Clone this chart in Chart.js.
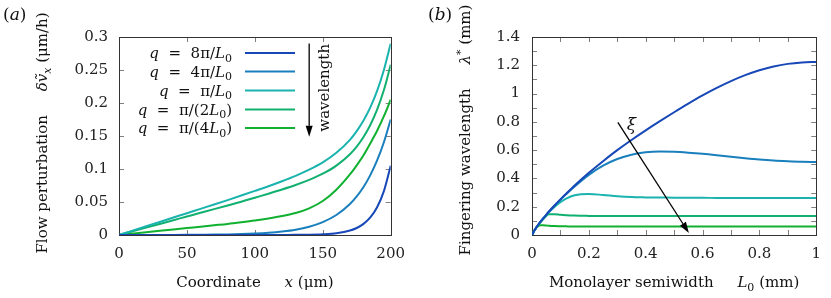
<!DOCTYPE html>
<html>
<head>
<meta charset="utf-8">
<script src="https://cdn.jsdelivr.net/npm/chart.js@4.4.0/dist/chart.umd.min.js"></script>
<style>
body { margin: 0; background: #fff; width: 831px; height: 298px; position: relative; overflow: hidden; }
.panel { position: absolute; top: 0; height: 298px; }
#pa { left: 0; width: 415px; }
#pb { left: 415px; width: 416px; }
</style>
</head>
<body>
<div class="panel" id="pa"><canvas id="flow"></canvas></div>
<div class="panel" id="pb"><canvas id="finger"></canvas></div>
<script>
// (a) flow perturbation along x (um), one curve per wavenumber q
var coordX = [0, 10, 20, 30, 40, 50, 60, 70, 80, 90, 100, 110, 120, 130, 140, 150, 160, 170, 175, 180, 185, 190, 195, 200];
var flowQ8 = [0, 0, 0, 0, 0, 0, 0, 0, 0, 0, 0, 0, 0.0001, 0.0002, 0.0004, 0.0011, 0.0027, 0.0067, 0.0106, 0.0168, 0.0266, 0.042, 0.0664, 0.105];
var flowQ4 = [0, 0, 0.0001, 0.0001, 0.0001, 0.0002, 0.0004, 0.0006, 0.0009, 0.0014, 0.0022, 0.0034, 0.0053, 0.0081, 0.0126, 0.0196, 0.0303, 0.047, 0.0585, 0.0728, 0.0907, 0.113, 0.1406, 0.175];
var flowQ1 = [0, 0.0066, 0.0132, 0.0198, 0.0264, 0.033, 0.0396, 0.0462, 0.0529, 0.0598, 0.0668, 0.0739, 0.0815, 0.0897, 0.099, 0.110, 0.1246, 0.1442, 0.1574, 0.1735, 0.1934, 0.2184, 0.25, 0.29];
var flowQhalf = [0, 0.0056, 0.0112, 0.0168, 0.0224, 0.028, 0.0336, 0.0392, 0.0448, 0.0504, 0.0565, 0.0626, 0.0689, 0.0757, 0.0835, 0.0929, 0.1052, 0.1224, 0.134, 0.1485, 0.1667, 0.1898, 0.2196, 0.258];
var flowQquarter = [0, 0.0021, 0.0042, 0.0063, 0.0084, 0.0105, 0.0126, 0.0147, 0.0168, 0.0193, 0.022, 0.0251, 0.0287, 0.0333, 0.0404, 0.0515, 0.0686, 0.0917, 0.1055, 0.1208, 0.1389, 0.1579, 0.18, 0.205];
var flowLabels = [
  [{t: 'q', i: 1}, {t: '  =  8π/'}, {t: 'L', i: 1}, {t: '0', sub: 1}],
  [{t: 'q', i: 1}, {t: '  =  4π/'}, {t: 'L', i: 1}, {t: '0', sub: 1}],
  [{t: 'q', i: 1}, {t: '  =  π/'}, {t: 'L', i: 1}, {t: '0', sub: 1}],
  [{t: 'q', i: 1}, {t: '  =  π/(2'}, {t: 'L', i: 1}, {t: '0', sub: 1}, {t: ')'}],
  [{t: 'q', i: 1}, {t: '  =  π/(4'}, {t: 'L', i: 1}, {t: '0', sub: 1}, {t: ')'}]
];
var flowXTicks = [0, 50, 100, 150, 200];
var flowYTicks = [0, 0.05, 0.1, 0.15, 0.2, 0.25, 0.3];

// (b) fingering wavelength vs monolayer semiwidth L0 (mm), one curve per xi
var semiwidth = [0, 0.01, 0.02, 0.03, 0.04, 0.05, 0.06, 0.08, 0.1, 0.12, 0.15, 0.2, 0.25, 0.3, 0.35, 0.4, 0.45, 0.5, 0.55, 0.6, 0.65, 0.7, 0.75, 0.8, 0.85, 0.9, 0.95, 1.0];
var lambdaXi1 = [0, 0.037, 0.067, 0.094, 0.119, 0.143, 0.166, 0.21, 0.252, 0.292, 0.35, 0.44, 0.522, 0.6, 0.672, 0.74, 0.805, 0.868, 0.929, 0.987, 1.04, 1.088, 1.13, 1.165, 1.192, 1.21, 1.22, 1.224];
var lambdaXi2 = [0, 0.037, 0.067, 0.094, 0.119, 0.143, 0.166, 0.209, 0.25, 0.288, 0.343, 0.425, 0.49, 0.537, 0.568, 0.585, 0.59, 0.588, 0.582, 0.574, 0.564, 0.553, 0.543, 0.534, 0.527, 0.522, 0.518, 0.516];
var lambdaXi3 = [0, 0.037, 0.067, 0.093, 0.117, 0.14, 0.162, 0.2, 0.232, 0.257, 0.281, 0.29, 0.283, 0.274, 0.268, 0.266, 0.265, 0.264, 0.263, 0.263, 0.262, 0.262, 0.262, 0.262, 0.261, 0.261, 0.261, 0.261];
var lambdaXi4 = [0, 0.037, 0.066, 0.09, 0.112, 0.135, 0.146, 0.147, 0.143, 0.14, 0.137, 0.135, 0.134, 0.134, 0.134, 0.134, 0.134, 0.134, 0.134, 0.134, 0.134, 0.134, 0.134, 0.134, 0.134, 0.134, 0.134, 0.134];
var lambdaXi5 = [0, 0.037, 0.06, 0.069, 0.069, 0.067, 0.065, 0.063, 0.062, 0.061, 0.06, 0.06, 0.06, 0.06, 0.06, 0.06, 0.06, 0.06, 0.06, 0.06, 0.06, 0.06, 0.06, 0.06, 0.06, 0.06, 0.06, 0.06];
var fingerXTicks = [0, 0.2, 0.4, 0.6, 0.8, 1];
var fingerXMinor = [0.1, 0.3, 0.5, 0.7, 0.9];
var fingerYTicks = [0, 0.2, 0.4, 0.6, 0.8, 1, 1.2, 1.4];
var fingerYMinor = [0.1, 0.3, 0.5, 0.7, 0.9, 1.1, 1.3];

var colors = ['#1848b8', '#1a7fbd', '#1ab3ad', '#12b070', '#10b030'];
var FONT = 'DejaVu Serif';

function pts(xs, ys) {
  return xs.map(function (x, k) { return {x: x, y: ys[k]}; });
}

function runFont(r, size) {
  var s = (r.sub || r.sup) ? Math.round(size * 0.7) : size;
  return (r.i ? 'italic ' : '') + s + 'px "' + FONT + '"';
}

function drawRuns(ctx, runs, x, y, size, align) {
  var w = 0;
  runs.forEach(function (r) { ctx.font = runFont(r, size); w += ctx.measureText(r.t).width; });
  var cx = align === 'center' ? x - w / 2 : (align === 'right' ? x - w : x);
  ctx.textAlign = 'left';
  ctx.textBaseline = 'alphabetic';
  runs.forEach(function (r) {
    ctx.font = runFont(r, size);
    var dy = r.sub ? size * 0.25 : (r.sup ? -size * 0.4 : 0);
    ctx.fillText(r.t, cx, y + dy);
    cx += ctx.measureText(r.t).width;
  });
}

function drawRotated(ctx, runs, x, y, size) {
  ctx.save();
  ctx.translate(x, y);
  ctx.rotate(-Math.PI / 2);
  drawRuns(ctx, runs, 0, 0, size, 'center');
  ctx.restore();
}

function drawArrow(ctx, x1, y1, x2, y2) {
  var ang = Math.atan2(y2 - y1, x2 - x1);
  var len = 11, half = 3.5;
  var bx = x2 - len * Math.cos(ang), by = y2 - len * Math.sin(ang);
  ctx.strokeStyle = '#000';
  ctx.fillStyle = '#000';
  ctx.lineWidth = 1.3;
  ctx.beginPath();
  ctx.moveTo(x1, y1);
  ctx.lineTo(bx, by);
  ctx.stroke();
  ctx.beginPath();
  ctx.moveTo(x2, y2);
  ctx.lineTo(bx + half * Math.sin(ang), by - half * Math.cos(ang));
  ctx.lineTo(bx - half * Math.sin(ang), by + half * Math.cos(ang));
  ctx.closePath();
  ctx.fill();
}

// box round the plot and inward ticks on all four sides
function frameTicks(xt, yt) {
  return {
    id: 'frameTicks',
    beforeDatasetsDraw: function (chart) {
      var ctx = chart.ctx, a = chart.chartArea, sx = chart.scales.x, sy = chart.scales.y;
      ctx.save();
      ctx.strokeStyle = '#808080';
      ctx.lineWidth = 1;
      ctx.beginPath();
      xt.forEach(function (v) {
        var p = Math.round(sx.getPixelForValue(v)) + 0.5;
        ctx.moveTo(p, a.bottom); ctx.lineTo(p, a.bottom - 5);
        ctx.moveTo(p, a.top); ctx.lineTo(p, a.top + 5);
      });
      yt.forEach(function (v) {
        var p = Math.round(sy.getPixelForValue(v)) + 0.5;
        ctx.moveTo(a.left, p); ctx.lineTo(a.left + 5, p);
        ctx.moveTo(a.right, p); ctx.lineTo(a.right - 5, p);
      });
      ctx.stroke();
      ctx.strokeStyle = '#333';
      ctx.strokeRect(Math.round(a.left) + 0.5, Math.round(a.top) + 0.5,
        Math.round(a.right - a.left), Math.round(a.bottom - a.top));
      ctx.restore();
    }
  };
}

function axisOpts(min, max, ticks, pad, fit) {
  return {
    type: 'linear',
    min: min,
    max: max,
    grid: {display: false, drawTicks: false},
    border: {display: false},
    afterBuildTicks: function (s) { s.ticks = ticks.map(function (v) { return {value: v}; }); },
    afterFit: fit,
    ticks: {
      callback: function (v) { return String(v); },
      font: {family: FONT, size: 15},
      color: '#222',
      padding: pad,
      maxRotation: 0,
      autoSkip: false
    }
  };
}

function lineSet(data, color) {
  return {data: data, borderColor: color, borderWidth: 2, pointRadius: 0, fill: false, cubicInterpolationMode: 'monotone'};
}

var flowSeries = [flowQ8, flowQ4, flowQ1, flowQhalf, flowQquarter];

var flowDecor = {
  id: 'flowDecor',
  afterDraw: function (chart) {
    var ctx = chart.ctx, a = chart.chartArea, sx = chart.scales.x, sy = chart.scales.y;
    ctx.save();
    // legend
    var rows = [53, 71.5, 90.5, 109.5, 128];
    flowLabels.forEach(function (lab, k) {
      ctx.fillStyle = '#111';
      drawRuns(ctx, lab, 232, rows[k] + 5, 15, 'right');
      ctx.strokeStyle = colors[k];
      ctx.lineWidth = 2;
      ctx.beginPath();
      ctx.moveTo(245, rows[k]);
      ctx.lineTo(295, rows[k]);
      ctx.stroke();
    });
    // wavelength arrow
    drawArrow(ctx, sx.getPixelForValue(140), sy.getPixelForValue(0.29), sx.getPixelForValue(140), sy.getPixelForValue(0.149));
    ctx.fillStyle = '#111';
    drawRotated(ctx, [{t: 'wavelength'}], sx.getPixelForValue(154.5), sy.getPixelForValue(0.223), 15);
    // axis titles
    var cx = (a.left + a.right) / 2;
    drawRuns(ctx, [{t: 'Coordinate     '}, {t: 'x', i: 1}, {t: ' (μm)'}], cx, 287, 15, 'center');
    drawRotated(ctx, [{t: 'Flow perturbation     '}, {t: 'δṽ', i: 1}, {t: 'x', i: 1, sub: 1}, {t: ' (μm/h)'}], 47, 133, 15);
    drawRuns(ctx, [{t: '('}, {t: 'a', i: 1}, {t: ')'}], 3, 20, 17, 'left');
    ctx.restore();
  }
};

new Chart(document.getElementById('flow'), {
  type: 'line',
  data: {
    datasets: flowSeries.map(function (ys, k) { return lineSet(pts(coordX, ys), colors[k]); })
  },
  options: {
    responsive: true,
    maintainAspectRatio: false,
    animation: false,
    layout: {padding: {top: 37, right: 21, left: 0, bottom: 0}},
    plugins: {legend: {display: false}, tooltip: {enabled: false}},
    scales: {
      x: axisOpts(0, 200, flowXTicks, 10, function (s) { s.height = 63; }),
      y: axisOpts(0, 0.3, flowYTicks, 11, function (s) { s.width = 119; })
    }
  },
  plugins: [frameTicks(flowXTicks, flowYTicks), flowDecor]
});

var fingerSeries = [lambdaXi1, lambdaXi2, lambdaXi3, lambdaXi4, lambdaXi5];

var fingerDecor = {
  id: 'fingerDecor',
  afterDraw: function (chart) {
    var ctx = chart.ctx, a = chart.chartArea, sx = chart.scales.x, sy = chart.scales.y;
    ctx.save();
    drawArrow(ctx, sx.getPixelForValue(0.302), sy.getPixelForValue(0.796), sx.getPixelForValue(0.552), sy.getPixelForValue(0.014));
    ctx.fillStyle = '#111';
    drawRuns(ctx, [{t: 'ξ', i: 1}], sx.getPixelForValue(0.35), sy.getPixelForValue(0.74), 17, 'center');
    var cx = (a.left + a.right) / 2;
    drawRuns(ctx, [{t: 'Monolayer semiwidth     '}, {t: 'L', i: 1}, {t: '0', sub: 1}, {t: ' (mm)'}], cx, 287, 15, 'center');
    drawRotated(ctx, [{t: 'Fingering wavelength     '}, {t: 'λ', i: 1}, {t: '*', sup: 1}, {t: ' (mm)'}], 55, 130, 15);
    drawRuns(ctx, [{t: '('}, {t: 'b', i: 1}, {t: ')'}], 13, 20, 17, 'left');
    ctx.restore();
  }
};

new Chart(document.getElementById('finger'), {
  type: 'line',
  data: {
    datasets: fingerSeries.map(function (ys, k) { return lineSet(pts(semiwidth, ys), colors[k]); })
  },
  options: {
    responsive: true,
    maintainAspectRatio: false,
    animation: false,
    layout: {padding: {top: 37, right: 13, left: 0, bottom: 0}},
    plugins: {legend: {display: false}, tooltip: {enabled: false}},
    scales: {
      x: axisOpts(0, 1, fingerXTicks, 10, function (s) { s.height = 63; }),
      y: axisOpts(0, 1.4, fingerYTicks, 12, function (s) { s.width = 117; })
    }
  },
  plugins: [frameTicks(fingerXTicks.concat(fingerXMinor), fingerYTicks.concat(fingerYMinor)), fingerDecor]
});
</script>
</body>
</html>
